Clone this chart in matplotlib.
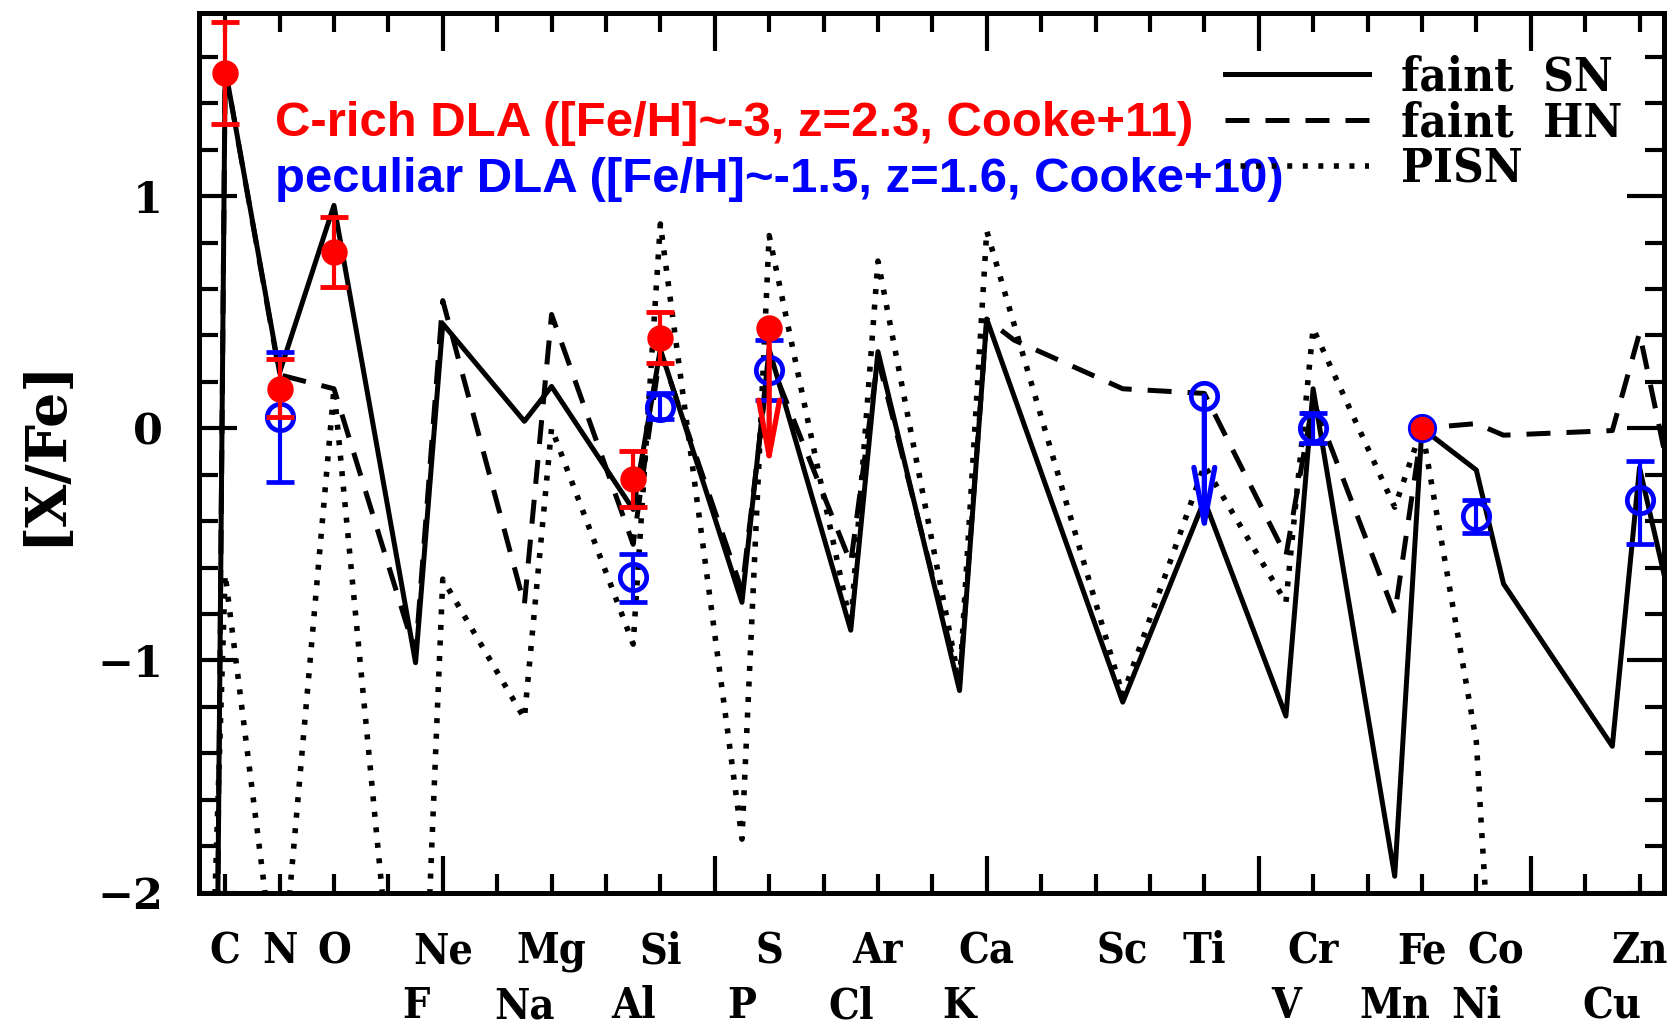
import matplotlib
matplotlib.use('Agg')
import matplotlib.pyplot as plt
from matplotlib.ticker import MultipleLocator
from matplotlib.lines import Line2D

# element labels and their positions along the x axis (two rows like the original)
top_labels = ['C', 'N', 'O', 'Ne', 'Mg', 'Si', 'S', 'Ar', 'Ca', 'Sc', 'Ti', 'Cr', 'Fe', 'Co', 'Zn']
top_pos = [0, 1, 2, 4, 6, 8, 10, 12, 14, 16.5, 18, 20, 22, 23.35, 26]
bottom_labels = ['F', 'Na', 'Al', 'P', 'Cl', 'K', 'V', 'Mn', 'Ni', 'Cu']
bottom_pos = [3.5, 5.5, 7.5, 9.5, 11.5, 13.5, 19.5, 21.5, 23, 25.5]

# model yields [X/Fe]
sn_x = [-1, 0, 1, 2, 3.5, 4, 5.5, 6, 7.5, 8, 9.5, 10, 11.5, 12, 13.5, 14,
        16.5, 18, 19.5, 20, 21.5, 22, 23, 23.5, 25.5, 26, 27]
sn_y = [-25, 1.55, 0.24, 0.96, -1.01, 0.45, 0.03, 0.18, -0.35, 0.34, -0.75, 0.34, -0.87, 0.33, -1.13, 0.47,
        -1.18, -0.31, -1.24, 0.17, -1.93, 0.0, -0.18, -0.67, -1.37, -0.17, -1.19]

hn_x = [-1, 0, 1, 2, 3.5, 4, 5.5, 6, 7.5, 8, 9.5, 10, 11.5, 12, 13.5, 14, 14.5,
        16.5, 18, 19.5, 20, 21.5, 22, 23, 23.5, 25.5, 26, 27]
hn_y = [-25, 1.55, 0.23, 0.17, -0.97, 0.55, -0.76, 0.49, -0.50, 0.33, -0.70, 0.30, -0.58, 0.30, -1.10, 0.47, 0.38,
        0.17, 0.15, -0.55, 0.12, -0.80, 0.0, 0.02, -0.03, -0.01, 0.41, -0.70]

pisn_x = [-1, 0, 1, 2, 3.5, 4, 5.5, 6, 7.5, 8, 9.5, 10, 11.5, 12, 13.5, 14,
          16.5, 18, 19.5, 20, 21.5, 22, 23, 23.5]
pisn_y = [-8, -0.63, -2.5, 0.17, -3.5, -0.65, -1.25, 0.0, -0.93, 0.88, -1.77, 0.83, -0.85, 0.72, -1.10, 0.85,
          -1.15, -0.16, -0.75, 0.43, -0.34, 0.0, -1.35, -3.3]

# C-rich DLA (Cooke+11)
red_x = [0, 1, 2, 7.5, 8]
red_y = [1.53, 0.17, 0.76, -0.22, 0.39]
red_lo = [0.22, 0.12, 0.15, 0.12, 0.11]
red_hi = [0.22, 0.13, 0.15, 0.12, 0.11]
red_lim_x, red_lim_y, red_lim_to = 10, 0.43, -0.18
fe_x, fe_y = 22, 0.0

# peculiar DLA (Cooke+10)
blue_x = [1, 7.5, 8, 10, 20, 23, 26]
blue_y = [0.05, -0.64, 0.09, 0.25, 0.0, -0.38, -0.31]
blue_lo = [0.28, 0.11, 0.05, 0.13, 0.065, 0.07, 0.19]
blue_hi = [0.28, 0.10, 0.06, 0.13, 0.065, 0.07, 0.17]
blue_lim_x, blue_lim_y, blue_lim_to = 18, 0.14, -0.47

label_font = dict(family='DejaVu Serif', weight='bold', stretch='condensed')

fig = plt.figure(figsize=(16.7, 10.33), dpi=100)
ax = fig.add_axes([0.1192, 0.136, 0.8772, 0.8517])

lw = 3.6
dash = (4.8, 3.2)
dot = (0.9, 1.9)
ax.plot(sn_x, sn_y, color='black', lw=lw)
ax.plot(hn_x, hn_y, color='black', lw=lw, dashes=dash)
ax.plot(pisn_x, pisn_y, color='black', lw=4, dashes=dot)

# data points
ax.errorbar(blue_x, blue_y, yerr=[blue_lo, blue_hi], fmt='o', ms=19, mfc='none', mec='blue', mew=3.4,
            ecolor='blue', elinewidth=3, capsize=10, capthick=3.5, zorder=5)
ax.errorbar(red_x, red_y, yerr=[red_lo, red_hi], fmt='o', ms=18, color='red', ecolor='red',
            elinewidth=3, capsize=10, capthick=3.5, zorder=6)

# upper limits
ax.plot([blue_lim_x], [blue_lim_y], 'o', ms=19, mfc='none', mec='blue', mew=3.4, zorder=5)
ax.annotate('', xy=(blue_lim_x, blue_lim_to), xytext=(blue_lim_x, blue_lim_y),
            arrowprops=dict(arrowstyle='->,head_length=4,head_width=0.75', color='blue', lw=3.8,
                            mutation_scale=10, shrinkA=0, shrinkB=0), zorder=5)
ax.plot([red_lim_x], [red_lim_y], 'o', ms=18, color='red', zorder=6)
ax.annotate('', xy=(red_lim_x, red_lim_to), xytext=(red_lim_x, red_lim_y),
            arrowprops=dict(arrowstyle='->,head_length=4,head_width=0.75', color='red', lw=3.8,
                            mutation_scale=10, shrinkA=0, shrinkB=0), zorder=6)
ax.plot([fe_x], [fe_y], 'o', ms=19, mfc='red', mec='blue', mew=2, zorder=7)

ax.text(0.92, 1.259, 'C-rich DLA ([Fe/H]~-3, z=2.3, Cooke+11)', color='red',
        fontsize=35.4, family='Liberation Sans', weight='bold', va='baseline')
ax.text(0.92, 1.016, 'peculiar DLA ([Fe/H]~-1.5, z=1.6, Cooke+10)', color='blue',
        fontsize=35.4, family='Liberation Sans', weight='bold', va='baseline')

handles = [Line2D([], [], color='black', lw=lw),
           Line2D([], [], color='black', lw=lw, dashes=dash),
           Line2D([], [], color='black', lw=4, dashes=dot)]
leg = ax.legend(handles, ['faint  SN', 'faint  HN', 'PISN'], loc='upper left',
                bbox_to_anchor=(0.70, 0.953), frameon=False, handlelength=3.07,
                handletextpad=0.66, labelspacing=0.0, borderpad=0, borderaxespad=0,
                prop=dict(size=34, **label_font))

ax.set_xlim(-0.48, 26.45)
ax.set_ylim(-2, 1.79)
ax.xaxis.set_major_locator(MultipleLocator(5, offset=4))
ax.xaxis.set_minor_locator(MultipleLocator(1))
ax.yaxis.set_major_locator(MultipleLocator(1))
ax.yaxis.set_minor_locator(MultipleLocator(0.2))
ax.tick_params(which='both', direction='in', top=True, right=True, width=3)
ax.tick_params(which='major', length=27)
ax.tick_params(which='minor', length=13.5)
ax.tick_params(axis='x', labelbottom=False)
ax.tick_params(axis='y', pad=26, labelsize=31)
for t in ax.get_yticklabels():
    t.set_fontfamily('DejaVu Serif')
    t.set_fontweight('bold')
for s in ax.spines.values():
    s.set_linewidth(3.6)

ax.set_ylabel('[X/Fe]', fontsize=40, fontweight='bold', family='DejaVu Serif', labelpad=18)

# element names under the axis
tr = ax.get_xaxis_transform()
for name, x in zip(top_labels, top_pos):
    ax.text(x, -0.067, name, transform=tr, ha='center', va='center', fontsize=31, **label_font)
for name, x in zip(bottom_labels, bottom_pos):
    ax.text(x, -0.129, name, transform=tr, ha='center', va='center', fontsize=31, **label_font)

fig.savefig('out.png', dpi=100)
